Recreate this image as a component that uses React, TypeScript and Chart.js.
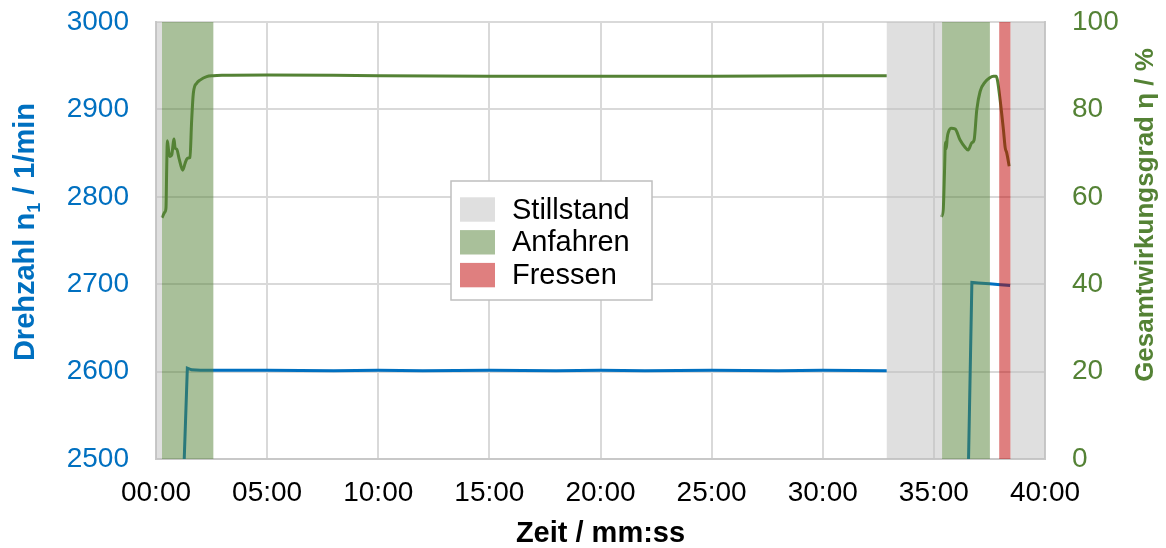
import React, { useEffect, useRef } from 'react';
import { Chart, registerables } from 'chart.js';

Chart.register(...registerables);

// ---------- data ----------
const xTickValues = [0, 5, 10, 15, 20, 25, 30, 35, 40];

// phases (minutes)
const phaseType = ['Stillstand', 'Anfahren', 'Stillstand', 'Anfahren', 'Fressen', 'Stillstand'];
const phaseStart = [0, 0.27, 32.88, 35.37, 37.94, 38.45];
const phaseEnd = [0.27, 2.58, 35.37, 37.52, 38.45, 40];
const legendNames = ['Stillstand', 'Anfahren', 'Fressen'];

// Drehzahl n1 (1/min), run 1 and run 2
const speedTimeA = [1.27, 1.41, 1.6, 2.0, 3, 5, 8, 10, 12, 15, 18, 20, 22, 25, 28, 30, 32.88];
const speedValA = [2500, 2604, 2602, 2601.5, 2601.5, 2601.5, 2601, 2601.5, 2601, 2601.5, 2601, 2601.5, 2601, 2601.5, 2601, 2601.5, 2601];
const speedTimeB = [36.56, 36.71, 37.0, 37.5, 38.0, 38.43];
const speedValB = [2500, 2702, 2701.5, 2700.5, 2699.5, 2698.5];

// Gesamtwirkungsgrad (%), run 1 and run 2
const effTimeA = [0.27, 0.4, 0.45, 0.48, 0.51, 0.57, 0.63, 0.71, 0.78, 0.81, 0.86, 0.93, 1.05, 1.2, 1.31, 1.38, 1.45, 1.53, 1.6, 1.68, 1.83, 1.98, 2.28, 2.58, 3, 5, 10, 15, 20, 25, 30, 32.88];
const effValA = [55.2, 56.5, 57.5, 66, 72.8, 70.5, 69.2, 69.6, 72.5, 73.2, 71.1, 70.9, 68.5, 66.1, 67.7, 68.6, 68.9, 69.0, 77, 83.7, 86.0, 86.7, 87.5, 87.7, 87.8, 87.9, 87.7, 87.6, 87.6, 87.6, 87.7, 87.7];
const effTimeB = [35.33, 35.42, 35.48, 35.52, 35.56, 35.6, 35.66, 35.78, 35.96, 36.18, 36.41, 36.54, 36.71, 36.81, 36.93, 37.08, 37.31, 37.5, 37.68, 37.8, 37.86, 37.98, 38.13, 38.21, 38.28, 38.39];
const effValB = [55.4, 57, 66, 72.5, 71, 73.5, 74.9, 75.7, 75.5, 73, 71.3, 70.7, 72.4, 73, 79.9, 84.1, 86.3, 87.2, 87.6, 87.6, 86.7, 82.2, 75.3, 71.2, 70, 67];

// ---------- styles ----------
const FONT = '"Liberation Sans", Arial, Helvetica, sans-serif';
const BLUE = '#0070C0';
const GREEN = '#548235';
const GRID = '#D9D9D9';
const phaseColor: Record<string, string> = {
  Stillstand: 'rgba(191,191,191,0.5)',
  Anfahren: 'rgba(84,130,53,0.5)',
  Fressen: 'rgba(192,0,0,0.5)',
};

function buildSegments(times: number[][], values: number[][]) {
  const out: { x: number; y: number | null }[] = [];
  times.forEach((t, i) => {
    if (i > 0) {
      const prev = times[i - 1];
      out.push({ x: (prev[prev.length - 1] + t[0]) / 2, y: null });
    }
    t.forEach((x, j) => out.push({ x, y: values[i][j] }));
  });
  return out;
}

function fmtTime(v: number) {
  const m = Math.floor(v);
  const s = Math.round((v - m) * 60);
  return String(m).padStart(2, '0') + ':' + String(s).padStart(2, '0');
}

const phasePlugin = {
  id: 'phases',
  afterDatasetsDraw(chart: any) {
    const { ctx, chartArea: a, scales } = chart;
    const x = scales.x;
    ctx.save();
    phaseStart.forEach((s, i) => {
      const x0 = x.getPixelForValue(s);
      const x1 = x.getPixelForValue(phaseEnd[i]);
      ctx.fillStyle = phaseColor[phaseType[i]];
      ctx.fillRect(x0, a.top, x1 - x0, a.bottom - a.top);
    });
    ctx.restore();
  },
};

const overlayPlugin = {
  id: 'overlay',
  afterDraw(chart: any) {
    const { ctx } = chart;
    ctx.save();
    // legend box
    const L = 451, T = 181, R = 652, B = 300;
    ctx.fillStyle = '#FFFFFF';
    ctx.fillRect(L, T, R - L, B - T);
    ctx.strokeStyle = '#BFBFBF';
    ctx.lineWidth = 1.5;
    ctx.strokeRect(L, T, R - L, B - T);
    legendNames.forEach((name, i) => {
      const cy = 209.5 + i * 32.8;
      ctx.fillStyle = phaseColor[name];
      ctx.fillRect(460, cy - 12.2, 35, 24.4);
      ctx.fillStyle = '#000000';
      ctx.font = `29px ${FONT}`;
      ctx.textAlign = 'left';
      ctx.textBaseline = 'middle';
      ctx.fillText(name, 512, cy + 1);
    });

    // left axis title with subscript
    ctx.save();
    ctx.translate(34, 232);
    ctx.rotate(-Math.PI / 2);
    ctx.fillStyle = BLUE;
    ctx.textBaseline = 'alphabetic';
    ctx.textAlign = 'left';
    const big = `bold 29px ${FONT}`;
    const small = `bold 18px ${FONT}`;
    const p1 = 'Drehzahl n';
    const p2 = '1';
    const p3 = ' / 1/min';
    ctx.font = big;
    const w1 = ctx.measureText(p1).width;
    const w3 = ctx.measureText(p3).width;
    ctx.font = small;
    const w2 = ctx.measureText(p2).width;
    let xx = -(w1 + w2 + w3) / 2;
    ctx.font = big;
    ctx.fillText(p1, xx, 0);
    xx += w1;
    ctx.font = small;
    ctx.fillText(p2, xx, 6);
    xx += w2;
    ctx.font = big;
    ctx.fillText(p3, xx, 0);
    ctx.restore();

    // right axis title
    ctx.save();
    ctx.translate(1153, 215);
    ctx.rotate(-Math.PI / 2);
    ctx.fillStyle = GREEN;
    ctx.font = `bold 26px ${FONT}`;
    ctx.textAlign = 'center';
    ctx.textBaseline = 'alphabetic';
    ctx.fillText('Gesamtwirkungsgrad η / %', 0, 0);
    ctx.restore();

    ctx.restore();
  },
};

export default function App() {
  const ref = useRef<HTMLCanvasElement | null>(null);

  useEffect(() => {
    document.body.style.margin = '0';
    const canvas = ref.current;
    if (!canvas) return;
    const chart = new Chart(canvas, {
      type: 'line',
      data: {
        datasets: [
          {
            label: 'Drehzahl',
            data: buildSegments([speedTimeA, speedTimeB], [speedValA, speedValB]) as any,
            borderColor: BLUE,
            borderWidth: 3,
            pointRadius: 0,
            tension: 0,
            spanGaps: false,
            yAxisID: 'y',
          },
          {
            label: 'Wirkungsgrad',
            data: buildSegments([effTimeA, effTimeB], [effValA, effValB]) as any,
            borderColor: GREEN,
            borderWidth: 3,
            pointRadius: 0,
            cubicInterpolationMode: 'monotone',
            spanGaps: false,
            yAxisID: 'y1',
          },
        ],
      },
      options: {
        animation: false,
        responsive: true,
        maintainAspectRatio: false,
        layout: { padding: { top: 22, left: 0, right: 0, bottom: 0 } },
        plugins: { legend: { display: false }, tooltip: { enabled: false } },
        scales: {
          x: {
            type: 'linear',
            min: 0,
            max: 40,
            afterBuildTicks: (s: any) => {
              s.ticks = xTickValues.map((v) => ({ value: v }));
            },
            ticks: {
              color: '#000000',
              font: { family: FONT, size: 28 },
              padding: 17,
              maxRotation: 0,
              autoSkip: false,
              callback: (v: any) => fmtTime(Number(v)),
            },
            grid: { color: GRID, lineWidth: 2, drawTicks: false },
            border: { color: '#C8C8C8', width: 2 },
            title: {
              display: true,
              text: 'Zeit / mm:ss',
              color: '#000000',
              font: { family: FONT, size: 29, weight: 'bold', lineHeight: 1 },
              padding: 0,
            },
            afterFit: (s: any) => {
              s.height = 89;
            },
          },
          y: {
            position: 'left',
            min: 2500,
            max: 3000,
            ticks: {
              stepSize: 100,
              color: BLUE,
              font: { family: FONT, size: 28 },
              padding: 0,
              callback: (v: any) => String(v),
            },
            grid: {
              color: GRID,
              lineWidth: 2,
              drawTicks: true,
              tickLength: 27,
              tickColor: 'rgba(0,0,0,0)',
            },
            border: { color: '#C8C8C8', width: 2 },
            afterFit: (s: any) => {
              s.width = 156;
            },
          },
          y1: {
            position: 'right',
            min: 0,
            max: 100,
            ticks: {
              stepSize: 20,
              color: GREEN,
              font: { family: FONT, size: 28 },
              padding: 0,
              callback: (v: any) => String(v),
            },
            grid: {
              display: false,
              drawTicks: true,
              tickLength: 27,
              tickColor: 'rgba(0,0,0,0)',
            },
            border: { color: '#C8C8C8', width: 2 },
            afterFit: (s: any) => {
              s.width = 121;
            },
          },
        },
      },
      plugins: [phasePlugin, overlayPlugin],
    });
    return () => chart.destroy();
  }, []);

  return (
    <div style={{ position: 'absolute', left: 0, top: 0, width: 1166, height: 548 }}>
      <canvas ref={ref} />
    </div>
  );
}
